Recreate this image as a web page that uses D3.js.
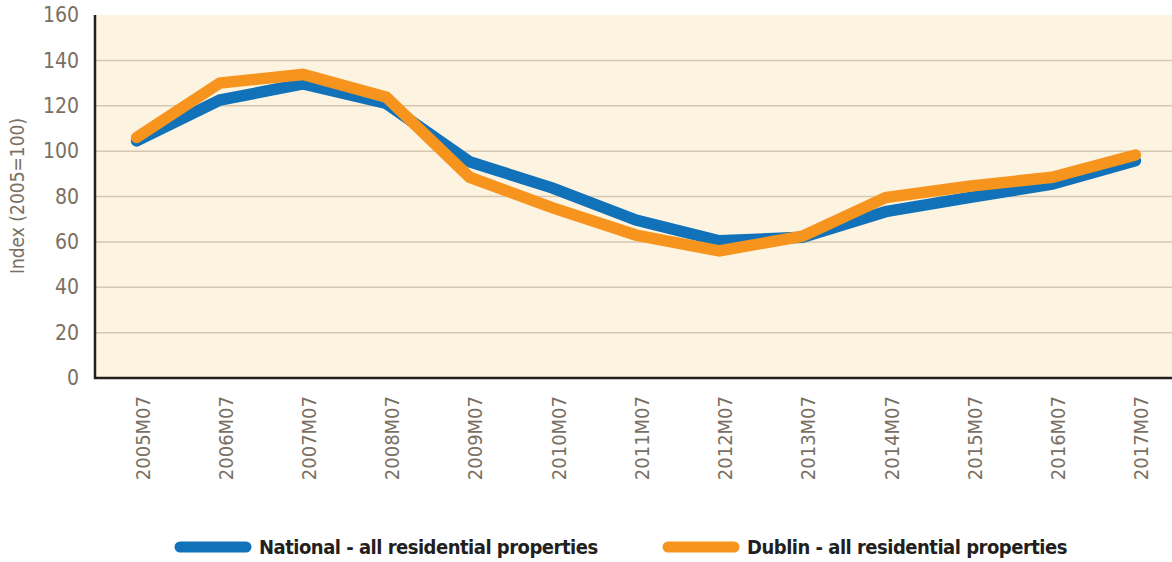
<!DOCTYPE html>
<html lang="en">
<head>
<meta charset="UTF-8">
<title>Residential property price index</title>
<script src="https://d3js.org/d3.v7.min.js"></script>
<style>
  body { margin: 0; background: #fff; }
  svg { display: block; }
  .tick text { fill: #7a6f63; font-family: "Liberation Sans Narrow", "DejaVu Sans Condensed", sans-serif; }
</style>
</head>
<body>
<script>
const categories = ["2005M07", "2006M07", "2007M07", "2008M07", "2009M07", "2010M07", "2011M07",
                    "2012M07", "2013M07", "2014M07", "2015M07", "2016M07", "2017M07"];
const nationalValues = [104.5, 122.5, 129.6, 121, 95.3, 83.7, 69.6, 60.5, 62, 73.3, 79.5, 85.5, 95.8];
const dublinValues   = [106, 130, 133.8, 123.8, 88.5, 75, 63, 56, 62.5, 79.5, 84.5, 88.5, 98.3];
const yTicks = [0, 20, 40, 60, 80, 100, 120, 140, 160];
const seriesNames = ["National - all residential properties", "Dublin - all residential properties"];
const seriesColors = ["#1172b9", "#f7941e"];

const width = 1172, height = 562;
const plotLeft = 95, plotRight = 1177, plotTop = 15, plotBottom = 378;
const font = "'Liberation Sans Narrow', 'DejaVu Sans Condensed', sans-serif";

const svg = d3.select("body").append("svg")
  .attr("width", width).attr("height", height);

const x = d3.scalePoint().domain(categories).range([plotLeft, plotRight]).padding(0.5);
const y = d3.scaleLinear().domain([0, 160]).range([plotBottom, plotTop]);

// plot background
svg.append("rect")
  .attr("x", plotLeft).attr("y", plotTop)
  .attr("width", plotRight - plotLeft).attr("height", plotBottom - plotTop)
  .attr("fill", "#fdf3e1");

// gridlines
svg.append("g").selectAll("line")
  .data(yTicks.filter(d => d > 0 && d < 160))
  .join("line")
  .attr("x1", plotLeft).attr("x2", plotRight)
  .attr("y1", d => y(d)).attr("y2", d => y(d))
  .attr("stroke", "#d5c7b0").attr("stroke-width", 1.5);

// y axis
const yAxis = svg.append("g")
  .attr("transform", `translate(${plotLeft},0)`)
  .call(d3.axisLeft(y).tickValues(yTicks).tickSize(0).tickPadding(16));
yAxis.select(".domain").remove();
yAxis.selectAll(".tick text").style("font-size", "21px");

// x axis
const xAxis = svg.append("g")
  .attr("transform", `translate(0,${plotBottom})`)
  .call(d3.axisBottom(x).tickSize(0));
xAxis.select(".domain").remove();
xAxis.selectAll(".tick text")
  .style("font-size", "20px")
  .attr("text-anchor", "end")
  .attr("transform", "rotate(-90)")
  .attr("x", -18).attr("y", 0).attr("dy", "0.62em");

// axis lines
svg.append("line")
  .attr("x1", plotLeft).attr("x2", plotLeft)
  .attr("y1", plotTop).attr("y2", plotBottom + 1)
  .attr("stroke", "#231f20").attr("stroke-width", 2.5);
svg.append("line")
  .attr("x1", plotLeft - 1).attr("x2", plotRight)
  .attr("y1", plotBottom).attr("y2", plotBottom)
  .attr("stroke", "#231f20").attr("stroke-width", 2.5);

// y axis title
svg.append("text")
  .attr("transform", `translate(24,196) rotate(-90)`)
  .attr("text-anchor", "middle")
  .attr("fill", "#7a6f63")
  .style("font-family", font)
  .style("font-size", "19px")
  .text("Index (2005=100)");

// lines
const line = d3.line()
  .x((d, i) => x(categories[i]))
  .y(d => y(d));

[nationalValues, dublinValues].forEach((vals, i) => {
  svg.append("path")
    .datum(vals)
    .attr("d", line)
    .attr("fill", "none")
    .attr("stroke", seriesColors[i])
    .attr("stroke-width", 11.5)
    .attr("stroke-linejoin", "miter")
    .attr("stroke-linecap", "round");
});

// legend
const legendX = [180, 668];
const legend = svg.append("g").selectAll("g")
  .data(seriesNames)
  .join("g")
  .attr("transform", (d, i) => `translate(${legendX[i]},547)`);
legend.append("line")
  .attr("x1", 0).attr("x2", 66)
  .attr("stroke", (d, i) => seriesColors[i])
  .attr("stroke-width", 11)
  .attr("stroke-linecap", "round");
legend.append("text")
  .attr("x", 79).attr("dy", "0.35em")
  .attr("fill", "#231f20")
  .style("font-family", font)
  .style("font-weight", "bold")
  .style("font-size", "20px")
  .style("letter-spacing", "-0.5px")
  .text(d => d);
</script>
</body>
</html>
